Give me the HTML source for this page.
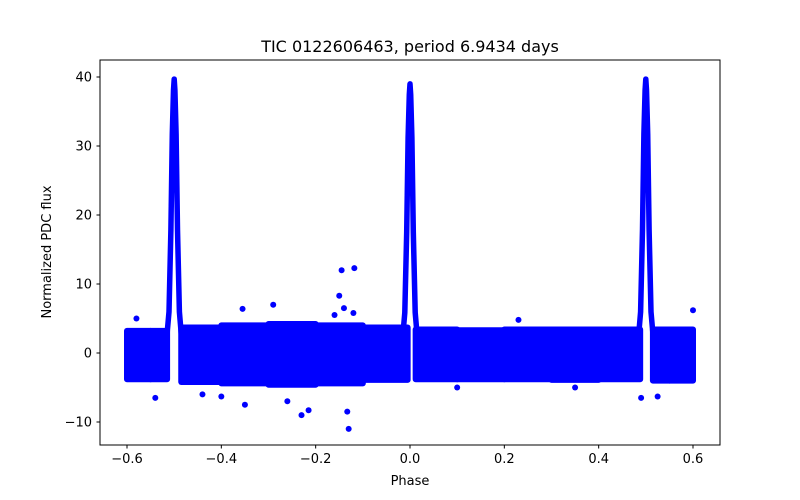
<!DOCTYPE html>
<html><head><meta charset="utf-8"><style>
body{margin:0;background:#fff;}
svg{display:block;font-family:"DejaVu Sans","Liberation Sans",sans-serif;}
</style></head><body>
<svg id="chart" width="800" height="500">
<rect width="800" height="500" fill="#fff"/>
<text x="410" y="52" text-anchor="middle" font-size="16">TIC 0122606463, period 6.9434 days</text>
<g id="marks"></g>
<rect x="100" y="60" width="620" height="385" fill="none" stroke="#000" stroke-width="1"/>
<g id="axes"></g>
<text x="410" y="485" text-anchor="middle" font-size="13">Phase</text>
<text transform="translate(51,252) rotate(-90)" text-anchor="middle" font-size="13">Normalized PDC flux</text>
</svg>
<script>
const xTicks=[-0.6,-0.4,-0.2,0.0,0.2,0.4,0.6];
const xTickLabels=["\u22120.6","\u22120.4","\u22120.2","0.0","0.2","0.4","0.6"];
const yTicks=[-10,0,10,20,30,40];
const yTickLabels=["\u221210","0","10","20","30","40"];
// noise band segments: start phase, end phase, low flux, high flux
const bandStart=[-0.6,-0.55,-0.485,-0.4,-0.3,-0.2,-0.1,0.012,0.1,0.2,0.3,0.4,0.515,0.55];
const bandEnd=[-0.55,-0.515,-0.4,-0.3,-0.2,-0.1,-0.005,0.1,0.2,0.3,0.4,0.488,0.55,0.6];
const bandLow=[-3.8,-3.8,-4.2,-4.4,-4.6,-4.4,-3.9,-3.8,-3.8,-3.8,-3.9,-3.8,-4,-4];
const bandHigh=[3.2,3.2,3.7,4.0,4.2,4.0,3.7,3.4,3.3,3.4,3.4,3.4,3.4,3.4];
// peak centers and profile
const peakCenters=[-0.5,0.0,0.5];
const peakHeights=[39.7,39,39.7];
const profileOffset=[-0.016,-0.011,-0.007,-0.004,-0.0015,0,0.0015,0.004,0.007,0.011,0.016];
const profileFrac=[0.05,0.15,0.45,0.8,0.96,1,0.96,0.8,0.45,0.15,0.05];
// scattered outliers
const outPhase=[-0.145,-0.118,-0.15,-0.13,-0.133,-0.23,-0.215,-0.35,-0.4,-0.54,0.49,0.525,0.6,-0.14,-0.12,-0.29,-0.355,0.23,-0.58,-0.44,-0.26,-0.16,0.1,0.35];
const outFlux=[12,12.3,8.3,-11,-8.5,-9,-8.3,-7.5,-6.3,-6.5,-6.5,-6.3,6.2,6.5,5.8,7,6.4,4.8,5,-6,-7,5.5,-5,-5];

const ns="http://www.w3.org/2000/svg";
const xs=p=>410+p*(566/1.2);
const ys=v=>353-v*6.9;
const marks=document.getElementById('marks');
const axes=document.getElementById('axes');
const B="#0000ff";
function mk(tag,attrs,parent){const e=document.createElementNS(ns,tag);for(const k in attrs)e.setAttribute(k,attrs[k]);parent.appendChild(e);return e;}

for(let i=0;i<bandStart.length;i++){
  const r=mk('rect',{x:xs(bandStart[i])-3,y:ys(bandHigh[i])-3,width:xs(bandEnd[i])-xs(bandStart[i])+6,height:ys(bandLow[i])-ys(bandHigh[i])+6,rx:3,fill:B},marks);
  
  
}
for(let k=0;k<peakCenters.length;k++){
  let pts=[];
  for(let j=0;j<profileOffset.length;j++){
    pts.push(xs(peakCenters[k]+profileOffset[j]).toFixed(1)+','+ys(peakHeights[k]*profileFrac[j]).toFixed(1));
  }
  const pl=mk('polyline',{points:pts.join(' '),fill:"none",stroke:B,'stroke-width':5.5,'stroke-linejoin':'round','stroke-linecap':'round'},marks);
  
  
}
for(let i=0;i<outPhase.length;i++){
  const c=mk('circle',{cx:xs(outPhase[i]),cy:ys(outFlux[i]),r:3,fill:B},marks);
  
  
}
for(let i=0;i<xTicks.length;i++){
  const x=xs(xTicks[i]);
  const t=mk('line',{x1:x,x2:x,y1:445,y2:448.5,stroke:'#000'},axes);
  
  
  const l=mk('text',{x:x,y:463,'text-anchor':'middle','font-size':13},axes);
  l.textContent=xTickLabels[i];
  
  
}
for(let i=0;i<yTicks.length;i++){
  const y=ys(yTicks[i]);
  const t=mk('line',{x1:96.5,x2:100,y1:y,y2:y,stroke:'#000'},axes);
  
  
  const l=mk('text',{x:92,y:y+4.5,'text-anchor':'end','font-size':13},axes);
  l.textContent=yTickLabels[i];
  
  
}
</script>
</body></html>
